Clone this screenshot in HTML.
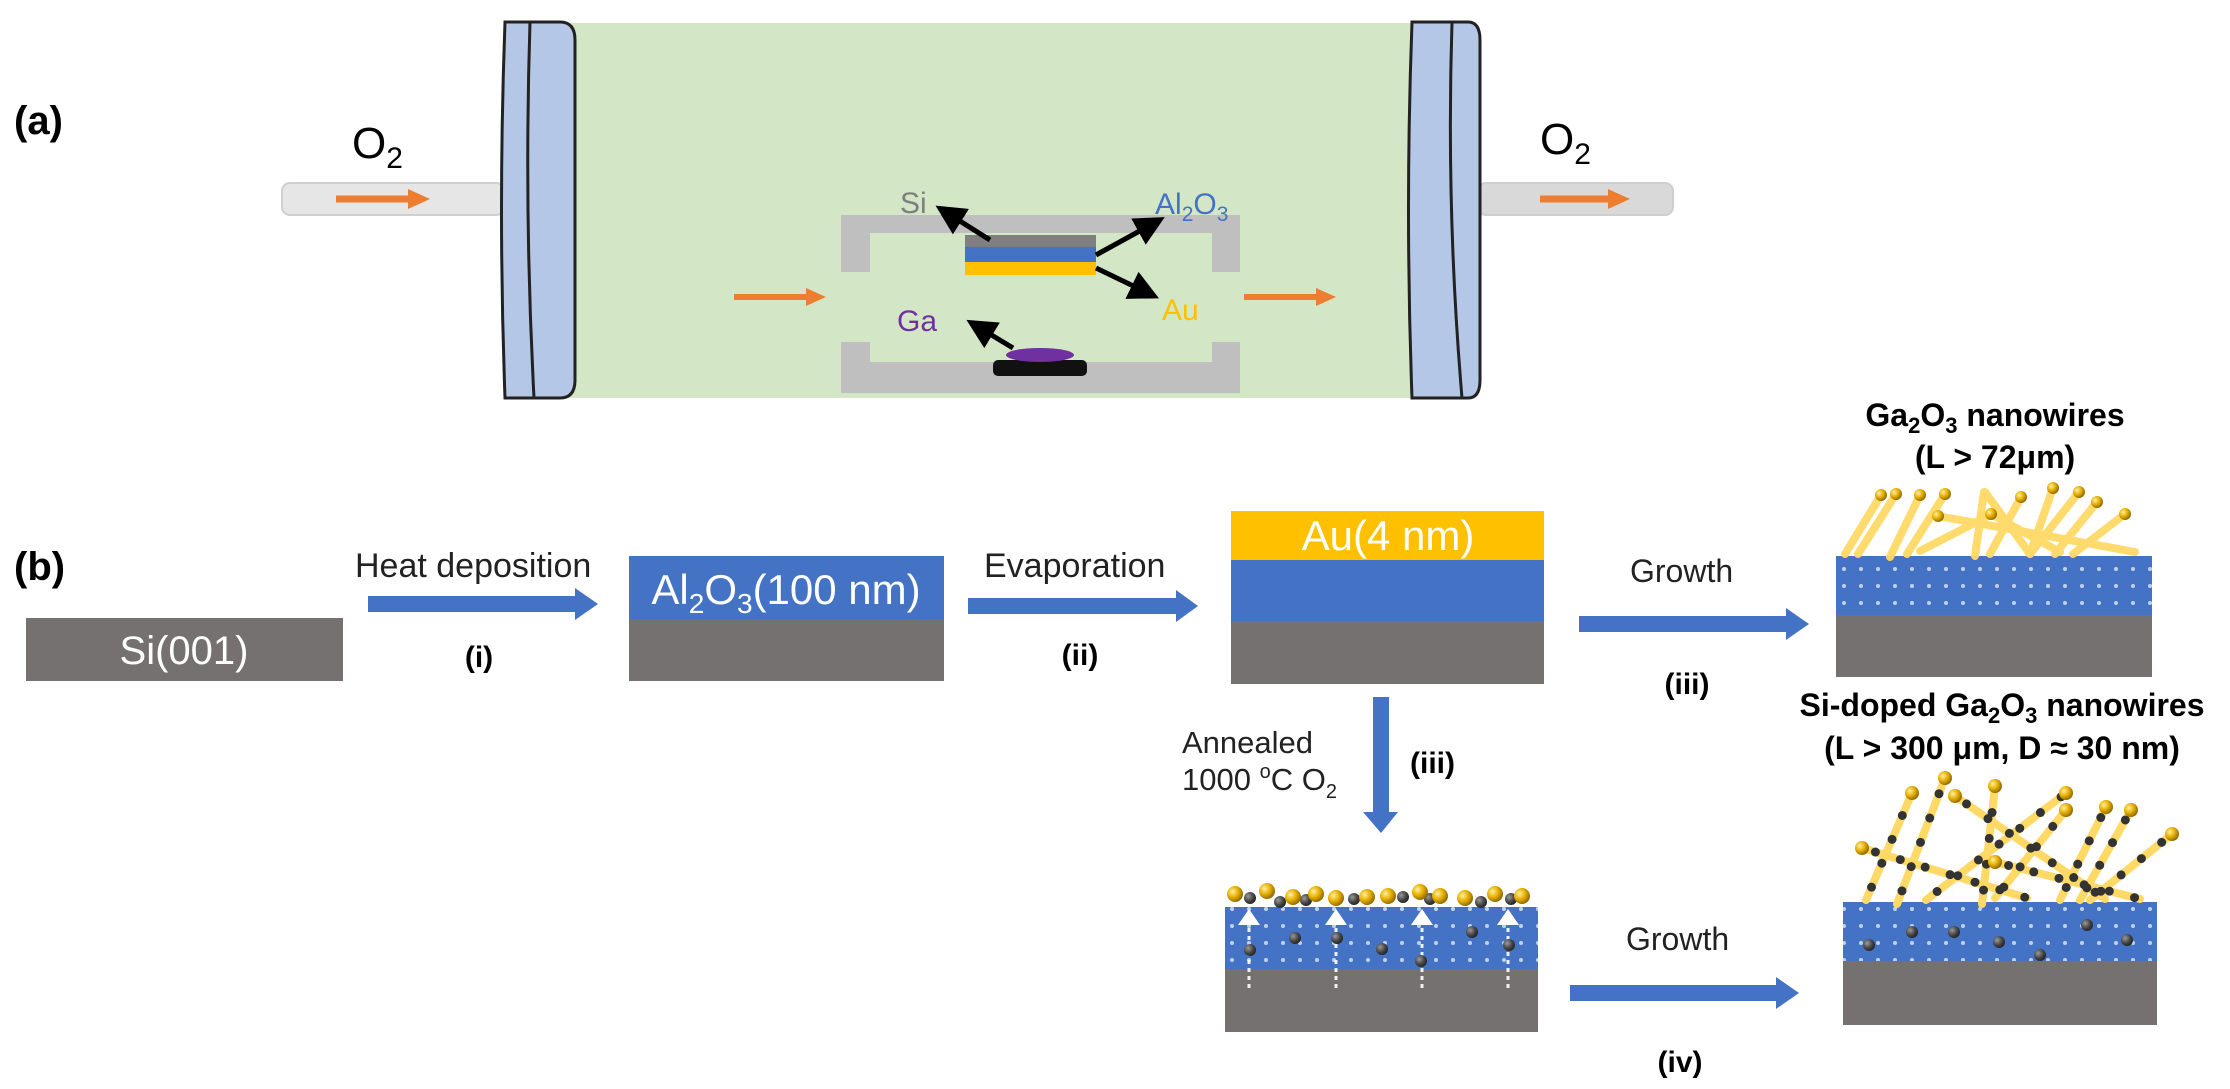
<!DOCTYPE html>
<html><head><meta charset="utf-8"><style>
html,body{margin:0;padding:0;background:#fff;}
svg{display:block;}
text{font-family:"Liberation Sans",Arial,sans-serif;}
</style></head><body>
<svg width="2230" height="1089" viewBox="0 0 2230 1089" xmlns="http://www.w3.org/2000/svg">
<defs>
<pattern id="dots" width="17" height="17" patternUnits="userSpaceOnUse">
<circle cx="8" cy="8" r="2" fill="#dfe8f8" opacity="0.8"/>
</pattern>
<radialGradient id="gold" cx="0.35" cy="0.35" r="0.7">
<stop offset="0" stop-color="#fff0a0"/><stop offset="0.5" stop-color="#e8b000"/><stop offset="1" stop-color="#8a6400"/>
</radialGradient>
<radialGradient id="dark" cx="0.35" cy="0.35" r="0.7">
<stop offset="0" stop-color="#9a9a9a"/><stop offset="0.6" stop-color="#444"/><stop offset="1" stop-color="#222"/>
</radialGradient>
<marker id="ah" markerWidth="6" markerHeight="6" refX="4" refY="3" orient="auto" markerUnits="strokeWidth">
<path d="M0,0 L6,3 L0,6 Z" fill="#000"/>
</marker>
</defs>

<!-- (a) -->
<text x="14" y="134" font-size="40" font-weight="bold" fill="#000">(a)</text>
<rect x="282" y="183" width="222" height="32" rx="8" fill="#e6e6e6" stroke="#cfcfcf" stroke-width="2"/>
<rect x="1478" y="183" width="195" height="32" rx="8" fill="#d9d9d9" stroke="#cfcfcf" stroke-width="2"/>
<path d="M336,199 H412" stroke="#ed7d31" stroke-width="7"/><path d="M408,189 L430,199 L408,209 Z" fill="#ed7d31"/>
<path d="M1540,199 H1612" stroke="#ed7d31" stroke-width="7"/><path d="M1608,189 L1630,199 L1608,209 Z" fill="#ed7d31"/>
<text x="352" y="158" font-size="44" fill="#000">O<tspan font-size="30" dy="10">2</tspan></text>
<text x="1540" y="154" font-size="44" fill="#000">O<tspan font-size="30" dy="10">2</tspan></text>
<rect x="560" y="23" width="860" height="375" fill="#d3e6c6"/>
<path d="M505,22 H560 Q575,22 575,40 V380 Q575,398 560,398 H505 Q498,210 505,22 Z" fill="#b4c7e7" stroke="#222" stroke-width="3"/>
<path d="M530,22 Q524,210 534,398" fill="none" stroke="#222" stroke-width="3"/>
<path d="M1412,22 H1468 Q1480,22 1480,40 V380 Q1480,398 1468,398 H1412 Q1405,210 1412,22 Z" fill="#b4c7e7" stroke="#222" stroke-width="3"/>
<path d="M1452,22 Q1446,210 1462,398" fill="none" stroke="#222" stroke-width="3"/>
<path d="M841,215 H1240 V272 H1212 V233 H870 V272 H841 Z" fill="#bfbfbf"/>
<rect x="965" y="235" width="131" height="13" fill="#7f7f7f"/>
<rect x="965" y="247" width="131" height="15" fill="#4472c4"/>
<rect x="965" y="262" width="131" height="13" fill="#ffc000"/>
<path d="M841,342 H870 V362 H1212 V342 H1240 V393 H841 Z" fill="#bfbfbf"/>
<rect x="993" y="360" width="94" height="16" rx="5" fill="#111"/>
<ellipse cx="1040" cy="355" rx="34" ry="7" fill="#7030a0"/>
<g stroke="#000" stroke-width="5" marker-end="url(#ah)">
<line x1="990" y1="240" x2="944" y2="211"/>
<line x1="1096" y1="255" x2="1156" y2="222"/>
<line x1="1096" y1="268" x2="1150" y2="294"/>
<line x1="1013" y1="348" x2="975" y2="325"/>
</g>
<text x="900" y="213" font-size="30" fill="#7f7f7f">Si</text>
<text x="1155" y="214" font-size="30" fill="#4472c4">Al<tspan font-size="21" dy="7">2</tspan><tspan dy="-7">O</tspan><tspan font-size="21" dy="7">3</tspan></text>
<text x="1162" y="320" font-size="30" fill="#ffc000">Au</text>
<text x="897" y="331" font-size="30" fill="#7030a0">Ga</text>
<path d="M734,297 H810" stroke="#ed7d31" stroke-width="6"/><path d="M806,288 L826,297 L806,306 Z" fill="#ed7d31"/>
<path d="M1244,297 H1320" stroke="#ed7d31" stroke-width="6"/><path d="M1316,288 L1336,297 L1316,306 Z" fill="#ed7d31"/>

<!-- (b) -->
<text x="14" y="580" font-size="40" font-weight="bold" fill="#000">(b)</text>
<rect x="26" y="618" width="317" height="63" fill="#767171"/>
<text x="184" y="664" font-size="40" fill="#fff" text-anchor="middle">Si(001)</text>
<text x="355" y="577" font-size="34" fill="#222">Heat deposition</text>
<path d="M368,596 H575 V588 L598,604 L575,620 V612 H368 Z" fill="#4472c4"/>
<text x="479" y="667" font-size="30" font-weight="bold" fill="#000" text-anchor="middle">(i)</text>

<rect x="629" y="556" width="315" height="63" fill="#4472c4"/>
<rect x="629" y="619" width="315" height="62" fill="#767171"/>
<text x="786" y="604" font-size="42" fill="#fff" text-anchor="middle">Al<tspan font-size="28" dy="9">2</tspan><tspan dy="-9">O</tspan><tspan font-size="28" dy="9">3</tspan><tspan dy="-9">(100 nm)</tspan></text>
<text x="984" y="577" font-size="34" fill="#222">Evaporation</text>
<path d="M968,598 H1176 V590 L1198,606 L1176,622 V614 H968 Z" fill="#4472c4"/>
<text x="1080" y="665" font-size="30" font-weight="bold" fill="#000" text-anchor="middle">(ii)</text>

<rect x="1231" y="511" width="313" height="50" fill="#ffc000"/>
<rect x="1231" y="560" width="313" height="62" fill="#4472c4"/>
<rect x="1231" y="621" width="313" height="63" fill="#767171"/>
<text x="1388" y="550" font-size="42" fill="#fff" text-anchor="middle">Au(4 nm)</text>
<text x="1630" y="582" font-size="32" fill="#222">Growth</text>
<path d="M1579,616 H1786 V608 L1809,624 L1786,640 V632 H1579 Z" fill="#4472c4"/>
<text x="1687" y="694" font-size="30" font-weight="bold" fill="#000" text-anchor="middle">(iii)</text>

<text x="1995" y="426" font-size="32" font-weight="bold" fill="#000" text-anchor="middle">Ga<tspan font-size="22" dy="7">2</tspan><tspan dy="-7">O</tspan><tspan font-size="22" dy="7">3</tspan><tspan dy="-7"> nanowires</tspan></text>
<text x="1995" y="468" font-size="32" font-weight="bold" fill="#000" text-anchor="middle">(L &gt; 72μm)</text>
<rect x="1836" y="556" width="316" height="60" fill="#4472c4"/>
<rect x="1836" y="556" width="316" height="60" fill="url(#dots)"/>
<rect x="1836" y="615" width="316" height="62" fill="#767171"/>
<g stroke="#ffd966" stroke-width="8" stroke-linecap="round" opacity="0.95">
<line x1="1845" y1="554" x2="1881" y2="495"/>
<line x1="1858" y1="554" x2="1896" y2="494"/>
<line x1="1890" y1="557" x2="1920" y2="495"/>
<line x1="1907" y1="554" x2="1945" y2="494"/>
<line x1="1920" y1="551" x2="1990" y2="515"/>
<line x1="1938" y1="516" x2="2135" y2="552"/>
<line x1="1975" y1="556" x2="1984" y2="492"/>
<line x1="1985" y1="492" x2="2030" y2="554"/>
<line x1="1991" y1="514" x2="2060" y2="552"/>
<line x1="1990" y1="554" x2="2021" y2="497"/>
<line x1="2030" y1="554" x2="2053" y2="488"/>
<line x1="2030" y1="554" x2="2079" y2="492"/>
<line x1="2055" y1="554" x2="2097" y2="502"/>
<line x1="2073" y1="554" x2="2125" y2="514"/>
</g>
<g fill="url(#gold)">
<circle cx="1881" cy="495" r="6"/><circle cx="1896" cy="494" r="6"/><circle cx="1920" cy="495" r="6"/><circle cx="1945" cy="494" r="6"/>
<circle cx="1938" cy="516" r="6"/><circle cx="1991" cy="514" r="6"/><circle cx="2021" cy="497" r="6"/><circle cx="2053" cy="488" r="6"/>
<circle cx="2079" cy="492" r="6"/><circle cx="2097" cy="502" r="6"/><circle cx="2125" cy="514" r="6"/>
</g>

<path d="M1373,697 H1389 V812 H1398 L1381,833 L1363,812 H1373 Z" fill="#4472c4"/>
<text x="1182" y="753" font-size="31" fill="#222">Annealed</text>
<text x="1182" y="790" font-size="31" fill="#222">1000 <tspan font-size="20" dy="-12">o</tspan><tspan dy="12">C O</tspan><tspan font-size="20" dy="8">2</tspan></text>
<text x="1410" y="773" font-size="30" font-weight="bold" fill="#000">(iii)</text>

<rect x="1225" y="907" width="313" height="63" fill="#4472c4"/>
<rect x="1225" y="907" width="313" height="63" fill="url(#dots)"/>
<rect x="1225" y="969" width="313" height="63" fill="#767171"/>
<g stroke="#fff" stroke-width="3" stroke-dasharray="4 4" opacity="0.9">
<line x1="1249" y1="988" x2="1249" y2="925"/><line x1="1336" y1="988" x2="1336" y2="925"/>
<line x1="1422" y1="988" x2="1422" y2="925"/><line x1="1508" y1="988" x2="1508" y2="925"/>
</g>
<g fill="#fff">
<path d="M1249,909 L1260,925 L1238,925 Z"/><path d="M1336,909 L1347,925 L1325,925 Z"/>
<path d="M1422,909 L1433,925 L1411,925 Z"/><path d="M1508,909 L1519,925 L1497,925 Z"/>
</g>
<g fill="url(#dark)">
<circle cx="1250" cy="950" r="6"/><circle cx="1295" cy="938" r="6"/><circle cx="1337" cy="938" r="6"/><circle cx="1382" cy="949" r="6"/>
<circle cx="1421" cy="961" r="6"/><circle cx="1472" cy="932" r="6"/><circle cx="1509" cy="945" r="6"/>
<circle cx="1250" cy="898" r="6"/><circle cx="1280" cy="902" r="6"/><circle cx="1306" cy="900" r="6"/><circle cx="1354" cy="899" r="6"/>
<circle cx="1403" cy="897" r="6"/><circle cx="1430" cy="899" r="6"/><circle cx="1481" cy="902" r="6"/><circle cx="1511" cy="899" r="6"/>
</g>
<g fill="url(#gold)">
<circle cx="1235" cy="894" r="8"/><circle cx="1267" cy="891" r="8"/><circle cx="1293" cy="897" r="8"/><circle cx="1316" cy="894" r="8"/>
<circle cx="1336" cy="898" r="8"/><circle cx="1367" cy="897" r="8"/><circle cx="1388" cy="896" r="8"/><circle cx="1420" cy="892" r="8"/>
<circle cx="1440" cy="896" r="8"/><circle cx="1465" cy="898" r="8"/><circle cx="1495" cy="894" r="8"/><circle cx="1522" cy="896" r="8"/>
</g>
<text x="1626" y="950" font-size="32" fill="#222">Growth</text>
<path d="M1570,985 H1776 V977 L1799,993 L1776,1009 V1001 H1570 Z" fill="#4472c4"/>
<text x="1680" y="1072" font-size="30" font-weight="bold" fill="#000" text-anchor="middle">(iv)</text>

<text x="2002" y="716" font-size="32" font-weight="bold" fill="#000" text-anchor="middle">Si-doped Ga<tspan font-size="22" dy="7">2</tspan><tspan dy="-7">O</tspan><tspan font-size="22" dy="7">3</tspan><tspan dy="-7"> nanowires</tspan></text>
<text x="2002" y="759" font-size="32" font-weight="bold" fill="#000" text-anchor="middle">(L &gt; 300 μm, D ≈ 30 nm)</text>
<rect x="1843" y="902" width="314" height="60" fill="#4472c4"/>
<rect x="1843" y="902" width="314" height="60" fill="url(#dots)"/>
<rect x="1843" y="961" width="314" height="64" fill="#767171"/>
<g stroke="#ffd966" stroke-width="8" stroke-linecap="round">
<line x1="1866" y1="900" x2="1912" y2="793"/>
<line x1="1897" y1="904" x2="1945" y2="778"/>
<line x1="1926" y1="900" x2="2066" y2="793"/>
<line x1="1982" y1="904" x2="1995" y2="786"/>
<line x1="1862" y1="848" x2="2027" y2="898"/>
<line x1="1955" y1="796" x2="2105" y2="899"/>
<line x1="1995" y1="898" x2="2066" y2="810"/>
<line x1="2060" y1="900" x2="2106" y2="807"/>
<line x1="2080" y1="900" x2="2131" y2="810"/>
<line x1="2090" y1="900" x2="2172" y2="834"/>
<line x1="1995" y1="862" x2="2140" y2="899"/>
</g>
<g stroke="#333" stroke-width="9" stroke-linecap="round" stroke-dasharray="0 26" stroke-dashoffset="-14">
<line x1="1866" y1="900" x2="1912" y2="793"/>
<line x1="1897" y1="904" x2="1945" y2="778"/>
<line x1="1926" y1="900" x2="2066" y2="793"/>
<line x1="1982" y1="904" x2="1995" y2="786"/>
<line x1="1862" y1="848" x2="2027" y2="898"/>
<line x1="1955" y1="796" x2="2105" y2="899"/>
<line x1="1995" y1="898" x2="2066" y2="810"/>
<line x1="2060" y1="900" x2="2106" y2="807"/>
<line x1="2080" y1="900" x2="2131" y2="810"/>
<line x1="2090" y1="900" x2="2172" y2="834"/>
<line x1="1995" y1="862" x2="2140" y2="899"/>
</g>
<g fill="url(#gold)">
<circle cx="1912" cy="793" r="7"/><circle cx="1945" cy="778" r="7"/><circle cx="2066" cy="793" r="7"/><circle cx="1995" cy="786" r="7"/>
<circle cx="1862" cy="848" r="7"/><circle cx="1955" cy="796" r="7"/><circle cx="2066" cy="810" r="7"/><circle cx="2106" cy="807" r="7"/>
<circle cx="2131" cy="810" r="7"/><circle cx="2172" cy="834" r="7"/><circle cx="1995" cy="862" r="7"/>
</g>
<g fill="url(#dark)">
<circle cx="1869" cy="945" r="6"/><circle cx="1912" cy="932" r="6"/><circle cx="1954" cy="932" r="6"/><circle cx="1999" cy="942" r="6"/>
<circle cx="2040" cy="955" r="6"/><circle cx="2087" cy="925" r="6"/><circle cx="2127" cy="940" r="6"/>
</g>
</svg>
</body></html>
